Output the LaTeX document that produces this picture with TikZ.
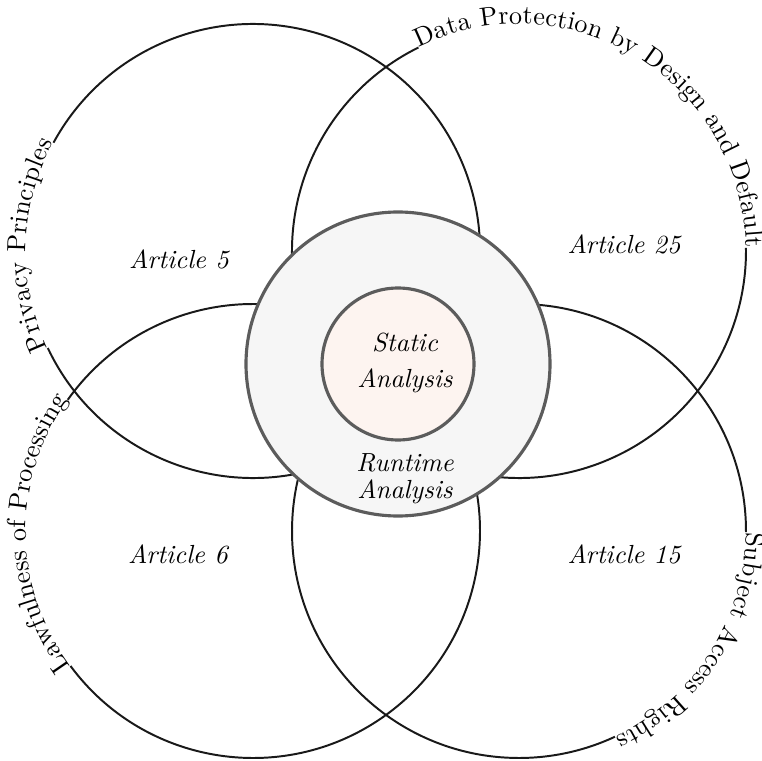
\documentclass[tikz,border=0pt]{standalone}
\usetikzlibrary{decorations.text}
\definecolor{ring}{RGB}{92,92,92}
\definecolor{runfill}{RGB}{246,246,246}
\definecolor{statfill}{RGB}{253,244,240}
\definecolor{setline}{RGB}{25,25,25}
\begin{document}
\begin{tikzpicture}[x=0.3817pt, y=0.3817pt,
  setcircle/.style={draw=setline, line width=0.75pt},
  arclabel/.style={decorate, decoration={text along path, text={#1}, text align=fit to path}},
  article/.style={font=\itshape, inner sep=0pt},
  core/.style={draw=ring, line width=1.2pt},
  corelabel/.style={font=\itshape, align=center, inner sep=0pt}]
\useasboundingbox (0,0) rectangle (762,760);
\coordinate (tl) at (253,509);
\coordinate (tr) at (519,509);
\coordinate (bl) at (253,229);
\coordinate (br) at (519,229);
\coordinate (mid) at (398,396);

% four set circles, each broken where its title runs along it
\draw[setcircle] (tl) ++(205.3:227) arc[start angle=205.3, end angle=511.5, radius=227];
\path[arclabel={Privacy Principles}] (tl) ++(205.3:227) arc[start angle=205.3, end angle=151.5, radius=227];

\draw[setcircle] (tr) ++(116.3:227) arc[start angle=116.3, end angle=360.8, radius=227];
\path[arclabel={Data Protection by Design and Default}] (tr) ++(116.3:227) arc[start angle=116.3, end angle=0.8, radius=227];

\draw[setcircle] (bl) ++(216.5:227) arc[start angle=216.5, end angle=504.7, radius=227];
\path[arclabel={Lawfulness of Processing}] (bl) ++(216.5:227) arc[start angle=216.5, end angle=144.7, radius=227];

\draw[setcircle] (br) ++(-0.3:227) arc[start angle=-0.3, end angle=295, radius=227];
\path[arclabel={Subject Access Rights}] (br) ++(-0.3:227) arc[start angle=-0.3, end angle=-65, radius=227];

% central analysis circles
\draw[core, fill=runfill] (mid) circle[radius=152];
\draw[core, fill=statfill] (mid) circle[radius=76];

\node[corelabel] (static) at (405,397) {Static\\[1.7pt]Analysis};
\node[corelabel] (runtime) at (405,281) {Runtime\\[-1.7pt]Analysis};

\node[article] (a5) at (179,501) {Article 5};
\node[article] (a25) at (624,516) {Article 25};
\node[article] (a6) at (178,206) {Article 6};
\node[article] (a15) at (624,206) {Article 15};
\end{tikzpicture}
\end{document}
